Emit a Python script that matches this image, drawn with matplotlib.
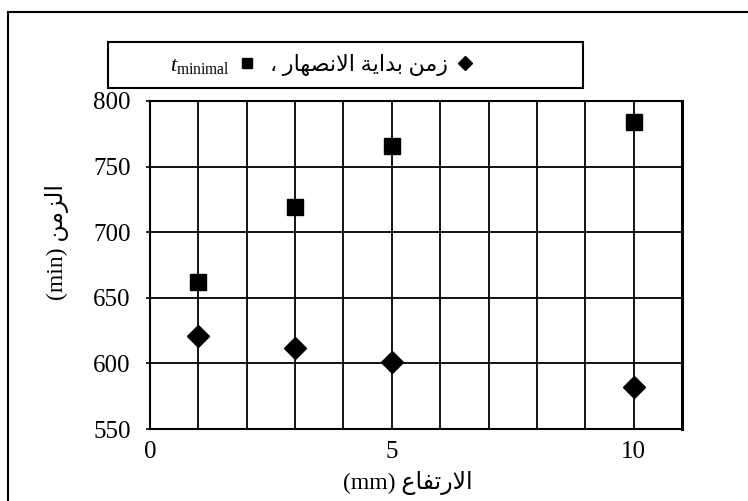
import matplotlib
matplotlib.use("Agg")
import matplotlib.pyplot as plt
from matplotlib.lines import Line2D
from matplotlib.patches import Rectangle
from matplotlib.ticker import MultipleLocator

# data
height_mm = [1, 3, 5, 10]
t_minimal = [662, 719, 766, 784]
t_melt_start = [621, 612, 601, 582]

# arabic texts (logical order)
melt_label_ar = "زمن بداية الانصهار"
time_label_ar = "الزمن"
height_label_ar = "الارتفاع"

# minimal shaping table: isolated, final, initial, medial
FORMS = {
    'ا': ('\uFE8D', '\uFE8E', None, None),
    'ب': ('\uFE8F', '\uFE90', '\uFE91', '\uFE92'),
    'ة': ('\uFE93', '\uFE94', None, None),
    'ت': ('\uFE95', '\uFE96', '\uFE97', '\uFE98'),
    'د': ('\uFEA9', '\uFEAA', None, None),
    'ر': ('\uFEAD', '\uFEAE', None, None),
    'ز': ('\uFEAF', '\uFEB0', None, None),
    'ص': ('\uFEB9', '\uFEBA', '\uFEBB', '\uFEBC'),
    'ع': ('\uFEC9', '\uFECA', '\uFECB', '\uFECC'),
    'ف': ('\uFED1', '\uFED2', '\uFED3', '\uFED4'),
    'ل': ('\uFEDD', '\uFEDE', '\uFEDF', '\uFEE0'),
    'م': ('\uFEE1', '\uFEE2', '\uFEE3', '\uFEE4'),
    'ن': ('\uFEE5', '\uFEE6', '\uFEE7', '\uFEE8'),
    'ه': ('\uFEE9', '\uFEEA', '\uFEEB', '\uFEEC'),
    'ي': ('\uFEF1', '\uFEF2', '\uFEF3', '\uFEF4'),
    'LA': ('\uFEFB', '\uFEFC', None, None),
}


def shape_word(word):
    '''Joins the letters of one arabic word and returns them in visual order'''
    letters = []
    i = 0
    while i < len(word):
        if word[i:i + 2] == 'لا':
            letters.append('LA')
            i += 2
        else:
            letters.append(word[i])
            i += 1
    out = []
    for k, ch in enumerate(letters):
        forms = FORMS[ch]
        joins_prev = k > 0 and FORMS[letters[k - 1]][2] is not None
        joins_next = k < len(letters) - 1 and forms[2] is not None
        if joins_prev and joins_next:
            out.append(forms[3])
        elif joins_prev:
            out.append(forms[1])
        elif joins_next:
            out.append(forms[2])
        else:
            out.append(forms[0])
    return ''.join(reversed(out))


def shape(text):
    return ' '.join(shape_word(w) for w in reversed(text.split()))


plt.rcParams['font.family'] = ['Liberation Serif', 'DejaVu Sans']
plt.rcParams['mathtext.fontset'] = 'custom'
plt.rcParams['mathtext.rm'] = 'Liberation Serif'
plt.rcParams['mathtext.it'] = 'Liberation Serif:italic'

W, H = 748, 501
fig = plt.figure(figsize=(W / 100, H / 100), dpi=100)
ax = fig.add_axes([150 / W, 1 - 429 / H, 532 / W, 328 / H])

ax.plot(height_mm, t_minimal, linestyle='none', marker='s', markersize=12,
        color='black', zorder=5)
ax.plot(height_mm, t_melt_start, linestyle='none', marker='D', markersize=11.5,
        color='black', zorder=5)

ax.set_xlim(0, 11)
ax.set_ylim(550, 800)
ax.xaxis.set_major_locator(MultipleLocator(5))
ax.xaxis.set_minor_locator(MultipleLocator(1))
ax.yaxis.set_major_locator(MultipleLocator(50))
ax.grid(which='both', axis='x', color='black', linewidth=1.3)
ax.grid(which='major', axis='y', color='black', linewidth=1.3)
ax.set_axisbelow(True)

ax.tick_params(axis='x', which='both', length=0, labelsize=18, pad=9)
ax.tick_params(axis='y', which='major', length=3, width=1.2, direction='out',
               labelsize=18, pad=11)
for sp in ax.spines.values():
    sp.set_linewidth(1.5)
ax.spines['right'].set_linewidth(2.2)

ax.set_xlabel('(mm) ' + shape(height_label_ar), fontsize=17)
ax.xaxis.set_label_coords(0.485, -0.128)
ax.set_ylabel('(min) ' + shape(time_label_ar), fontsize=17)
ax.yaxis.set_label_coords(-0.152, 0.57)

# legend laid out right to left, markers after their text
handles = [
    Line2D([], [], linestyle='none', marker='s', markersize=7, color='black'),
    Line2D([], [], linestyle='none', marker='D', markersize=7.5, color='black'),
]
labels = [r'$t_{\mathrm{minimal}}$', '، ' + shape(melt_label_ar)]
fig.legend(handles, labels, ncol=2, markerfirst=False, frameon=False,
           loc='center', bbox_to_anchor=(322 / W, 1 - 65 / H),
           fontsize=16, handlelength=0.8, handletextpad=0.4, columnspacing=0.6)

fig.patches.append(Rectangle((108 / W, 1 - 88 / H), 475 / W, 46 / H,
                             transform=fig.transFigure, fill=False,
                             edgecolor='black', linewidth=1.5))
# outer frame of the figure
fig.patches.append(Rectangle((8 / W, -0.1), 1.2, 1 - 12 / H + 0.1,
                             transform=fig.transFigure, fill=False,
                             edgecolor='black', linewidth=1.5))

fig.savefig('out.png', dpi=100)
